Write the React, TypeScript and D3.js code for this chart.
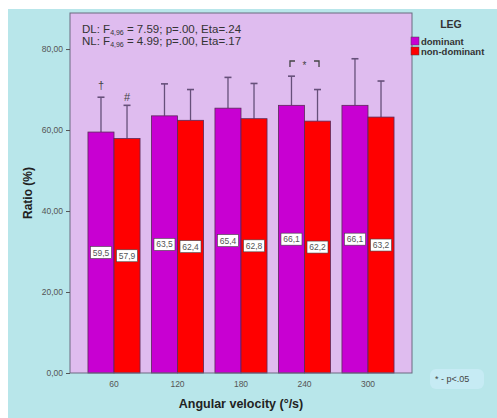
import React, { useEffect, useRef } from "react";
import * as d3 from "d3";

const velocities = ["60", "120", "180", "240", "300"];
const dominant = [59.5, 63.5, 65.4, 66.1, 66.1];
const nonDominant = [57.9, 62.4, 62.8, 62.2, 63.2];
// upper end of the error bars (mean + SD)
const dominantUpper = [68.1, 71.4, 73.0, 73.3, 77.6];
const nonDominantUpper = [66.1, 70.0, 71.5, 70.0, 72.1];
const yTicks = [0, 20, 40, 60, 80];
const seriesNames = ["dominant", "non-dominant"];
const seriesColors = ["#c800d2", "#ff0000"];

const W = 497;
const H = 418;
const FONT = "'Liberation Sans', Arial, sans-serif";

export default function App() {
  const ref = useRef<SVGSVGElement>(null);

  useEffect(() => {
    const svg = d3.select(ref.current);
    svg.selectAll("*").remove();

    const plot = { left: 70, top: 13, right: 412, bottom: 373 };

    // backgrounds
    svg.append("rect").attr("x", 8).attr("y", 9).attr("width", W - 8).attr("height", H - 9).attr("fill", "#b8e6ea");
    svg.append("rect").attr("x", plot.left).attr("y", plot.top)
      .attr("width", plot.right - plot.left).attr("height", plot.bottom - plot.top)
      .attr("fill", "#dfbcef");

    const x = d3.scaleBand().domain(velocities).range([plot.left, plot.right]).paddingInner(0.18).paddingOuter(0.283);
    const inner = d3.scaleBand().domain(seriesNames).range([0, x.bandwidth()]);
    const y = d3.scaleLinear().domain([0, 88.9]).range([plot.bottom, plot.top]);

    const rows = velocities.map((v, i) => ({
      v,
      vals: [
        { s: seriesNames[0], mean: dominant[i], up: dominantUpper[i], c: seriesColors[0] },
        { s: seriesNames[1], mean: nonDominant[i], up: nonDominantUpper[i], c: seriesColors[1] },
      ],
    }));

    const g = svg.append("g");
    const groups = g.selectAll("g.grp").data(rows).join("g").attr("class", "grp")
      .attr("transform", (d) => `translate(${x(d.v)},0)`);

    // error bars (drawn first, bars cover the lower half)
    groups.each(function (d) {
      const gg = d3.select(this);
      d.vals.forEach((b) => {
        const cx = (inner(b.s) as number) + inner.bandwidth() / 2;
        gg.append("line").attr("x1", cx).attr("x2", cx).attr("y1", y(b.mean)).attr("y2", y(b.up))
          .attr("stroke", "#66507a").attr("stroke-width", 1.3);
        gg.append("line").attr("x1", cx - 3.5).attr("x2", cx + 3.5).attr("y1", y(b.up)).attr("y2", y(b.up))
          .attr("stroke", "#66507a").attr("stroke-width", 1.6);
      });
    });

    groups.each(function (d) {
      const gg = d3.select(this);
      d.vals.forEach((b) => {
        const bx = inner(b.s) as number;
        gg.append("rect").attr("x", bx).attr("y", y(b.mean))
          .attr("width", inner.bandwidth()).attr("height", y(0) - y(b.mean))
          .attr("fill", b.c).attr("stroke", "#5a2a5a").attr("stroke-width", 0.8);
        const cx = bx + inner.bandwidth() / 2;
        const ly = y(b.mean / 2);
        gg.append("rect").attr("x", cx - 10.5).attr("y", ly - 6).attr("width", 21).attr("height", 12)
          .attr("fill", "#ffffff").attr("stroke", "#444").attr("stroke-width", 0.6);
        gg.append("text").attr("x", cx).attr("y", ly + 3).attr("text-anchor", "middle")
          .attr("font-family", FONT).attr("font-size", 8.5).attr("fill", "#555")
          .text(b.mean.toFixed(1).replace(".", ","));
      });
    });

    // frame
    svg.append("rect").attr("x", plot.left).attr("y", plot.top)
      .attr("width", plot.right - plot.left).attr("height", plot.bottom - plot.top)
      .attr("fill", "none").attr("stroke", "#6a6a80").attr("stroke-width", 1);

    // y axis
    const yAxis = svg.append("g").attr("transform", `translate(${plot.left},0)`)
      .call(d3.axisLeft(y).tickValues(yTicks).tickSize(4).tickFormat((d) => (d as number).toFixed(2).replace(".", ",")));
    yAxis.select(".domain").remove();
    yAxis.selectAll("line").attr("stroke", "#555");
    yAxis.selectAll("text").attr("font-family", FONT).attr("font-size", 8.5).attr("fill", "#555");

    // x axis
    const xAxis = svg.append("g").attr("transform", `translate(0,${plot.bottom})`)
      .call(d3.axisBottom(x).tickSize(0).tickPadding(8));
    xAxis.select(".domain").remove();
    xAxis.selectAll("text").attr("font-family", FONT).attr("font-size", 8.5).attr("fill", "#555");

    // titles
    svg.append("text").attr("transform", `translate(32,${(plot.top + plot.bottom) / 2}) rotate(-90)`)
      .attr("text-anchor", "middle").attr("font-family", FONT).attr("font-size", 12).attr("font-weight", "bold")
      .attr("fill", "#222").text("Ratio (%)");
    svg.append("text").attr("x", (plot.left + plot.right) / 2).attr("y", 408)
      .attr("text-anchor", "middle").attr("font-family", FONT).attr("font-size", 12.5).attr("font-weight", "bold")
      .attr("fill", "#222").text("Angular velocity (°/s)");

    // stats text
    const stats = [
      { lab: "DL:  F", rest: " = 7.59; p=.00, Eta=.24", y: 33 },
      { lab: "NL:  F", rest: " = 4.99; p=.00, Eta=.17", y: 45 },
    ];
    stats.forEach((s) => {
      const t = svg.append("text").attr("x", 82).attr("y", s.y).attr("font-family", FONT)
        .attr("font-size", 11.5).attr("fill", "#333");
      t.append("tspan").text(s.lab);
      t.append("tspan").attr("font-size", 7).attr("dy", 2).text("4,96");
      t.append("tspan").attr("dy", -2).text(s.rest);
    });

    // significance markers
    const barCenter = (xi: number, si: number) =>
      (x(velocities[xi]) as number) + (inner(seriesNames[si]) as number) + inner.bandwidth() / 2;
    const mark = (xi: number, si: number, up: number, sym: string, dy: number) => {
      svg.append("text").attr("x", barCenter(xi, si)).attr("y", y(up) - dy).attr("text-anchor", "middle")
        .attr("font-family", FONT).attr("font-size", 11).attr("fill", "#444").text(sym);
    };
    mark(0, 0, dominantUpper[0], "†", 8);
    mark(0, 1, nonDominantUpper[0], "#", 4);

    // bracket over 240
    const bx0 = barCenter(3, 0) - 1.5;
    const bx1 = barCenter(3, 1) + 1.5;
    const by = 61;
    svg.append("path")
      .attr("d", `M${bx0},${by + 6}V${by}H${bx0 + 5}M${bx1 - 5},${by}H${bx1}V${by + 6}`)
      .attr("fill", "none").attr("stroke", "#444").attr("stroke-width", 1.3);
    svg.append("text").attr("x", (bx0 + bx1) / 2).attr("y", by + 8).attr("text-anchor", "middle")
      .attr("font-family", FONT).attr("font-size", 10).attr("fill", "#444").text("*");

    // legend
    svg.append("text").attr("x", 451).attr("y", 28).attr("text-anchor", "middle")
      .attr("font-family", FONT).attr("font-size", 10.5).attr("font-weight", "bold").attr("fill", "#333").text("LEG");
    seriesNames.forEach((n, i) => {
      svg.append("rect").attr("x", 411).attr("y", 37 + i * 10).attr("width", 8).attr("height", 8)
        .attr("fill", seriesColors[i]).attr("stroke", "#444").attr("stroke-width", 0.5);
      svg.append("text").attr("x", 421).attr("y", 44.5 + i * 10).attr("font-family", FONT)
        .attr("font-size", 9.5).attr("font-weight", "bold").attr("fill", "#333").text(n);
    });

    // footnote
    svg.append("rect").attr("x", 430).attr("y", 369).attr("width", 54).attr("height", 20).attr("rx", 6)
      .attr("fill", "#c6ebf4");
    svg.append("text").attr("x", 435).attr("y", 382).attr("font-family", FONT).attr("font-size", 9)
      .attr("fill", "#444").text("*  - p<.05");
  }, []);

  return (
    <svg ref={ref} width={W} height={H} style={{ position: "absolute", left: 0, top: 0, background: "#fff" }} />
  );
}
